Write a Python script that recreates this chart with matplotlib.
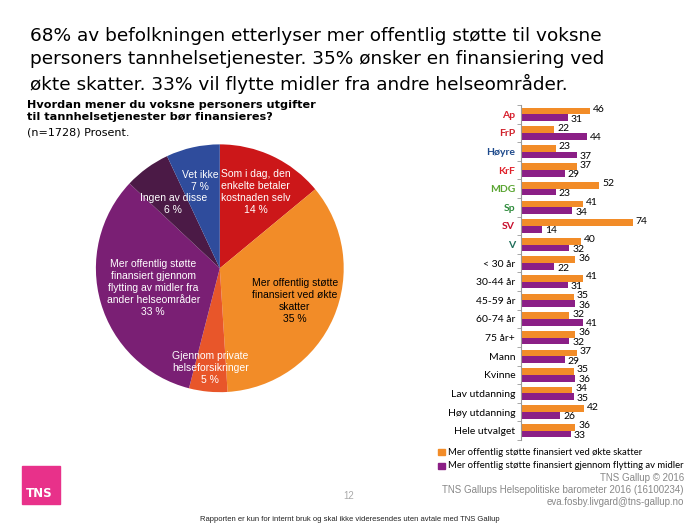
import numpy as np
import matplotlib.pyplot as plt
from matplotlib.patches import Rectangle

# pie data
pie_labels = ['Som i dag, den\nenkelte betaler\nkostnaden selv',
              'Mer offentlig støtte\nfinansiert ved økte\nskatter',
              'Gjennom private\nhelseforsikringer',
              'Mer offentlig støtte\nfinansiert gjennom\nflytting av midler fra\nander helseområder',
              'Ingen av disse',
              'Vet ikke']
pie_values = [14, 35, 5, 33, 6, 7]
pie_colors = ['#CC1719', '#F28C28', '#E8562A', '#7A1F74', '#4B1A46', '#2F4C9C']
pie_text_colors = ['white', 'black', 'white', 'white', 'white', 'white']
pie_label_r = [0.68, 0.66, 0.81, 0.56, 0.64, 0.72]

# bar data
categories = ['Ap', 'FrP', 'Høyre', 'KrF', 'MDG', 'Sp', 'SV', 'V',
              '< 30 år', '30-44 år', '45-59 år', '60-74 år', '75 år+',
              'Mann', 'Kvinne', 'Lav utdanning', 'Høy utdanning', 'Hele utvalget']
skatter = [46, 22, 23, 37, 52, 41, 74, 40, 36, 41, 35, 32, 36, 37, 35, 34, 42, 36]
flytting = [31, 44, 37, 29, 23, 34, 14, 32, 22, 31, 36, 41, 32, 29, 36, 35, 26, 33]
party_colors = {'Ap': '#D7202E', 'FrP': '#D0202A', 'Høyre': '#1E4A8C', 'KrF': '#E0202A',
                'MDG': '#5AA532', 'Sp': '#2E8B3C', 'SV': '#C8102E', 'V': '#1F6E5A'}

ORANGE = '#F28C28'
PURPLE = '#8B1F86'

fig = plt.figure(figsize=(7, 5.25), dpi=100)

fig.text(0.043, 0.949, '68% av befolkningen etterlyser mer offentlig støtte til voksne\n'
         'personers tannhelsetjenester. 35% ønsker en finansiering ved\n'
         'økte skatter. 33% vil flytte midler fra andre helseområder.',
         fontsize=13.3, va='top', ha='left', linespacing=1.38, color='black')

fig.text(0.039, 0.81, 'Hvordan mener du voksne personers utgifter\ntil tannhelsetjenester bør finansieres?',
         fontsize=8.1, fontweight='bold', va='top', ha='left', linespacing=1.25)
fig.text(0.039, 0.758, '(n=1728) Prosent.', fontsize=8, va='top', ha='left')

# pie
axp = fig.add_axes([0.137, 0.253, 0.354, 0.472])
wedges, _ = axp.pie(pie_values, colors=pie_colors, startangle=90, counterclock=False,
                    wedgeprops=dict(linewidth=0))
for w, lab, val, tc, r in zip(wedges, pie_labels, pie_values, pie_text_colors, pie_label_r):
    ang = np.deg2rad((w.theta1 + w.theta2) / 2)
    axp.text(r * np.cos(ang), r * np.sin(ang), f'{lab}\n{val} %', ha='center', va='center',
             fontsize=7.5, color=tc, family='Liberation Sans', linespacing=1.25)
axp.set_xlim(-1, 1)
axp.set_ylim(-1, 1)
axp.set_aspect('equal')
axp.axis('off')

# bars
axb = fig.add_axes([0.744, 0.162, 0.216, 0.638])
y = np.arange(len(categories))
h = 0.36
axb.barh(y - h / 2, skatter, height=h, color=ORANGE)
axb.barh(y + h / 2, flytting, height=h, color=PURPLE)
for yi, a, b in zip(y, skatter, flytting):
    axb.text(a + 2, yi - h / 2 - 0.08, str(a), fontsize=7.5, family='Lato', va='center', ha='left')
    axb.text(b + 2, yi + h / 2 + 0.08, str(b), fontsize=7.5, family='Lato', va='center', ha='left')
axb.set_xlim(0, 100)
axb.set_ylim(len(categories) - 0.5, -0.5)
axb.set_yticks(y)
axb.set_yticklabels(categories, fontsize=7.5, family='Lato')
axb.set_yticks(np.arange(len(categories) + 1) - 0.5, minor=True)
axb.tick_params(axis='y', which='major', length=0, pad=4)
axb.tick_params(axis='y', which='minor', length=3, color='#999999', direction='out')
axb.set_xticks([])
for s in ['top', 'right', 'bottom']:
    axb.spines[s].set_visible(False)
axb.spines['left'].set_color('#999999')
for lab in axb.get_yticklabels():
    t = lab.get_text()
    if t in party_colors:
        lab.set_color(party_colors[t])
        lab.set_fontweight('bold')

# legend
fig.patches.append(Rectangle((0.626, 0.133), 0.009, 0.012, transform=fig.transFigure, color=ORANGE))
fig.patches.append(Rectangle((0.626, 0.107), 0.009, 0.012, transform=fig.transFigure, color=PURPLE))
fig.text(0.640, 0.139, 'Mer offentlig støtte finansiert ved økte skatter', fontsize=6.8, family='Lato', va='center')
fig.text(0.640, 0.113, 'Mer offentlig støtte finansiert gjennom flytting av midler', fontsize=6.8, family='Lato',
         va='center')

# footer
gray = '#888888'
fig.text(0.977, 0.089, 'TNS Gallup © 2016', fontsize=7, color=gray, ha='right', va='center', family='Liberation Sans')
fig.text(0.977, 0.066, 'TNS Gallups Helsepolitiske barometer 2016 (16100234)', fontsize=7, color=gray,
         ha='right', va='center', family='Liberation Sans')
fig.text(0.977, 0.044, 'eva.fosby.livgard@tns-gallup.no', fontsize=7, color=gray, ha='right', va='center',
         family='Liberation Sans')
fig.text(0.498, 0.055, '12', fontsize=7, color='#aaaaaa', ha='center', va='center', family='Liberation Sans')
fig.text(0.5, 0.01, 'Rapporten er kun for internt bruk og skal ikke videresendes uten avtale med TNS Gallup',
         fontsize=5.5, color='#222222', ha='center', va='center', family='Liberation Sans')

# TNS logo
fig.patches.append(Rectangle((0.031, 0.04), 0.055, 0.073, transform=fig.transFigure, color='#E8318A'))
fig.text(0.037, 0.047, 'TNS', fontsize=8.5, color='white', fontweight='bold', ha='left', va='bottom')

fig.savefig('out.png', dpi=100)
